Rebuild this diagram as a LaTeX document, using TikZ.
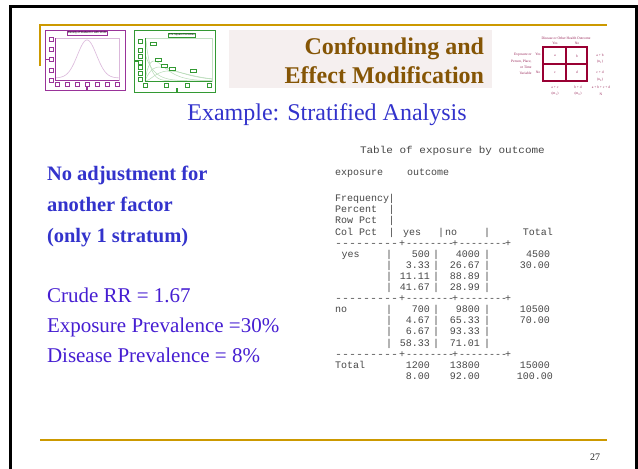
\documentclass[tikz,border=0pt]{standalone}
\usepackage{fontspec}
\setmainfont{Liberation Serif}
\newfontfamily\listfont{Liberation Mono}
\newfontfamily\tinysans{Liberation Sans}

\definecolor{gold}{RGB}{204,153,0}
\definecolor{titlebrown}{RGB}{133,85,5}
\definecolor{titlebg}{RGB}{245,239,239}
\definecolor{headblue}{RGB}{51,51,204}
\definecolor{bodyviolet}{RGB}{70,30,210}
\definecolor{gridmaroon}{RGB}{153,0,51}
\definecolor{gridtext}{RGB}{153,40,90}
\definecolor{thumbpurple}{RGB}{153,51,153}
\definecolor{thumbgreen}{RGB}{51,153,51}

\tikzset{
  listing/.style={font=\listfont\fontsize{10}{11}\selectfont, text=black!72},
  headtext/.style={font=\fontsize{20.5}{24}\selectfont\bfseries, text=headblue, anchor=base west},
  bodytext/.style={font=\fontsize{21}{24}\selectfont, text=bodyviolet, anchor=base west},
  cell/.style={font=\fontsize{3.6}{4}\selectfont, text=gridtext},
  pbox/.style={draw=thumbpurple, line width=0.5pt, fill=white, minimum width=3.6pt, minimum height=3.6pt},
  gbox/.style={draw=thumbgreen, line width=0.5pt, fill=white, minimum width=3.6pt, minimum height=3.6pt},
  glabel/.style={draw=thumbgreen, line width=0.5pt, fill=white, minimum width=6.5pt, minimum height=3.4pt},
}

\begin{document}
\begin{tikzpicture}[x=1pt, y=-1pt, every node/.style={inner sep=0pt, outer sep=0pt}]
\useasboundingbox (0,0) rectangle (638,469);
\fill[white] (0,0) rectangle (638,469);

% slide frame
\draw[black, line width=2.6pt] (10.5,469) -- (10.5,6.3) -- (636.5,6.3) -- (636.5,469);

% gold rules
\draw[gold, line width=2pt] (40,66) -- (40,25) -- (607,25);
\draw[gold, line width=2pt] (40,439.5) -- (607,439.5);

% ---------- thumbnail: t density ----------
\draw[thumbpurple, line width=1pt] (45,30) rectangle (125,90);
\draw[thumbpurple!35, line width=0.4pt] (55,38) rectangle (119,80);
\draw[thumbpurple!35, line width=0.6pt]
  plot[domain=56:119, samples=90] (\x,{78-38*exp(-((\x-87)^2)/(2*9.5^2))});
\draw[thumbpurple, line width=1pt] (55,38) -- (55,80) -- (119,80);
\foreach \yy [count=\i] in {39.5,49.5,59.5,70,80}
  \node[pbox] (ty\i) at (51,\yy) {};
\foreach \xx [count=\i] in {57,67,77,87,97,107,117}
  \node[pbox] (tx\i) at (\xx,84) {};
\fill[thumbpurple] (45,58.8) rectangle (49,60.4);
\fill[thumbpurple] (86.3,86) rectangle (87.7,90);
\node[draw=thumbpurple, line width=0.5pt, fill=white, inner sep=0.6pt,
      font=\tinysans\fontsize{2.7}{3}\selectfont] (ttitle) at (87.5,33.3)
  {Density of Student's t with 10 d.f.};

% ---------- thumbnail: chi-square densities ----------
\draw[thumbgreen, line width=1pt] (134,30) rectangle (215,92);
\draw[thumbgreen!30, line width=0.4pt] (145,38) rectangle (212,81);
\begin{scope}[thumbgreen!35, line width=0.5pt]
  \draw plot[domain=146:212, samples=60] (\x,{81-40*exp(-(\x-146)/4.5)});
  \draw plot[domain=145:212, samples=60] (\x,{81-27*exp(-(\x-145)/9)});
  \draw plot[domain=145:212, samples=60] (\x,{81-20*((\x-145)/9)*exp(1-(\x-145)/9)});
  \draw plot[domain=145:212, samples=60] (\x,{81-14*((\x-145)/15)*exp(1-(\x-145)/15)});
  \draw plot[domain=145:212, samples=60] (\x,{81-10*((\x-145)/24)^2*exp(2-2*(\x-145)/24)});
\end{scope}
\draw[thumbgreen, line width=1pt] (145,38) -- (145,81) -- (212,81);
\foreach \yy [count=\i] in {41,50,56,62,67,73,79}
  \node[gbox] (cy\i) at (140,\yy) {};
\foreach \xx [count=\i] in {145,166,187,209}
  \node[gbox] (cx\i) at (\xx,85) {};
\fill[thumbgreen] (134,60.3) rectangle (138.5,61.8);
\fill[thumbgreen] (176.3,88) rectangle (177.7,92);
\foreach \xx/\yy [count=\i] in {153/44,158/60,164/66,172/68.5,193/71}
  \node[glabel] (cl\i) at (\xx,\yy) {};
\node[draw=thumbgreen, line width=0.5pt, fill=white, inner sep=0.6pt,
      font=\tinysans\fontsize{2.7}{3}\selectfont] (ctitle) at (182,35)
  {Chi-Square Densities};

% ---------- title ----------
\fill[titlebg] (229,30) rectangle (492,88);
\node[anchor=base east, font=\fontsize{24}{28}\selectfont\bfseries, text=titlebrown]
  (title1) at (484,54) {Confounding and};
\node[anchor=base east, font=\fontsize{24}{28}\selectfont\bfseries, text=titlebrown]
  (title2) at (484,83) {Effect Modification};

% ---------- 2x2 table icon ----------
\draw[gridmaroon, line width=1.1pt] (543,47) rectangle (587,81);
\draw[gridmaroon, line width=1.1pt] (566,47) -- (566,81);
\draw[gridmaroon, line width=1.1pt] (543,64) -- (587,64);
\node[cell] (g0) at (566,38) {Disease or Other Health Outcome};
\node[cell] (gyes) at (555,43.5) {Yes};
\node[cell] (gno) at (577,43.5) {No};
\node[cell] (ga) at (555,56) {a};
\node[cell] (gb) at (577,56) {b};
\node[cell] (gc) at (555,72.5) {c};
\node[cell] (gd) at (577,72.5) {d};
\node[cell, anchor=east] (ge1) at (531.5,54.3) {Exposure or};
\node[cell, anchor=east] (ge2) at (531.5,61.5) {Person, Place,};
\node[cell, anchor=east] (ge3) at (531.5,67.5) {or Time};
\node[cell, anchor=east] (ge4) at (531.5,72.8) {Variable};
\node[cell] (gry) at (538,54.3) {Yes};
\node[cell] (grn) at (538,72.8) {No};
\node[cell] (gr1) at (600,55.5) {a + b};
\node[cell] (gr2) at (600,62) {(n\textsubscript{1})};
\node[cell] (gr3) at (600,72.5) {c + d};
\node[cell] (gr4) at (600,79.5) {(n\textsubscript{0})};
\node[cell] (gb1) at (555,87) {a + c};
\node[cell] (gb2) at (555,94) {(m\textsubscript{1})};
\node[cell] (gb3) at (578,87) {b + d};
\node[cell] (gb4) at (578,94) {(m\textsubscript{0})};
\node[cell] (gb5) at (601,87) {a + b + c + d};
\node[cell] (gb6) at (601,94) {N};

% ---------- subtitle ----------
\node[anchor=base, font=\fontsize{24}{28}\selectfont, text=headblue]
  (sub) at (327,120) {Example: Stratified Analysis};

% ---------- left column ----------
\node[headtext] (h1) at (47,180.5) {No adjustment for};
\node[headtext] (h2) at (47,211.5) {another factor};
\node[headtext] (h3) at (47,242) {(only 1 stratum)};
\node[bodytext] (b1) at (47,302) {Crude RR = 1.67};
\node[bodytext] (b2) at (47,332.5) {Exposure Prevalence =30\%};
\node[bodytext] (b3) at (47,362) {Disease Prevalence = 8\%};

% ---------- SAS frequency table ----------
\node[listing, anchor=base west] (lt) at (360,153)
  {\scalebox{1.1}[1]{Table of exposure by outcome}};
\node[listing, anchor=base west] (lv1) at (335,175) {exposure};
\node[listing, anchor=base west] (lv2) at (407,175) {outcome};

% header rows: baseline of row k is 201.7 + 11.1 k
\foreach \lab [count=\i from 0] in {Frequency,Percent,Row Pct,Col Pct}{
  \pgfmathsetmacro\yb{201.7+11.1*\i}
  \node[listing, anchor=base west] (hl\i) at (335,\yb) {\lab};
  \node[listing, anchor=base] (hb\i) at (391.5,\yb) {|};
}
\node[listing, anchor=base west] (hyes) at (403,235) {yes};
\node[listing, anchor=base] (hbar2) at (441,235) {|};
\node[listing, anchor=base west] (hno) at (445,235) {no};
\node[listing, anchor=base] (hbar3) at (487,235) {|};
\node[listing, anchor=base east] (htot) at (553,235) {Total};

% separator rows
\foreach \k in {4,9,14}{
  \pgfmathsetmacro\yb{201.7+11.1*\k}
  \node[listing, anchor=base west] (sa\k) at (335,\yb) {\scalebox{1.17}[1]{---------}};
  \node[listing, anchor=base] (sp1\k) at (402,\yb) {+};
  \node[listing, anchor=base west] (sb\k) at (406,\yb) {--------};
  \node[listing, anchor=base] (sp2\k) at (455,\yb) {+};
  \node[listing, anchor=base west] (sc\k) at (459,\yb) {--------};
  \node[listing, anchor=base] (sp3\k) at (508,\yb) {+};
}

% body rows with cell bars
\foreach \k/\a/\b/\c in {5/500/4000/4500, 6/3.33/26.67/30.00, 7/11.11/88.89/,
    8/41.67/28.99/, 10/700/9800/10500, 11/4.67/65.33/70.00, 12/6.67/93.33/,
    13/58.33/71.01/}{
  \pgfmathsetmacro\yb{201.7+11.1*\k}
  \node[listing, anchor=base] (ba\k) at (389,\yb) {|};
  \node[listing, anchor=base east] (va\k) at (430,\yb) {\a};
  \node[listing, anchor=base] (bb\k) at (436,\yb) {|};
  \node[listing, anchor=base east] (vb\k) at (480,\yb) {\b};
  \node[listing, anchor=base] (bc\k) at (487,\yb) {|};
  \node[listing, anchor=base east] (vc\k) at (550,\yb) {\c};
}
\node[listing, anchor=base west] (ryes) at (341.5,257.2) {yes};
\node[listing, anchor=base west] (rno) at (335,312.7) {no};

% totals
\node[listing, anchor=base west] (rtot) at (335,368.2) {Total};
\node[listing, anchor=base east] (t1a) at (430,368.2) {1200};
\node[listing, anchor=base east] (t1b) at (480,368.2) {13800};
\node[listing, anchor=base east] (t1c) at (550,368.2) {15000};
\node[listing, anchor=base east] (t2a) at (430,379.3) {8.00};
\node[listing, anchor=base east] (t2b) at (480,379.3) {92.00};
\node[listing, anchor=base east] (t2c) at (553,379.3) {100.00};

% page number
\node[font=\fontsize{10}{12}\selectfont, text=black!85] (page) at (595,457) {27};
\end{tikzpicture}
\end{document}
